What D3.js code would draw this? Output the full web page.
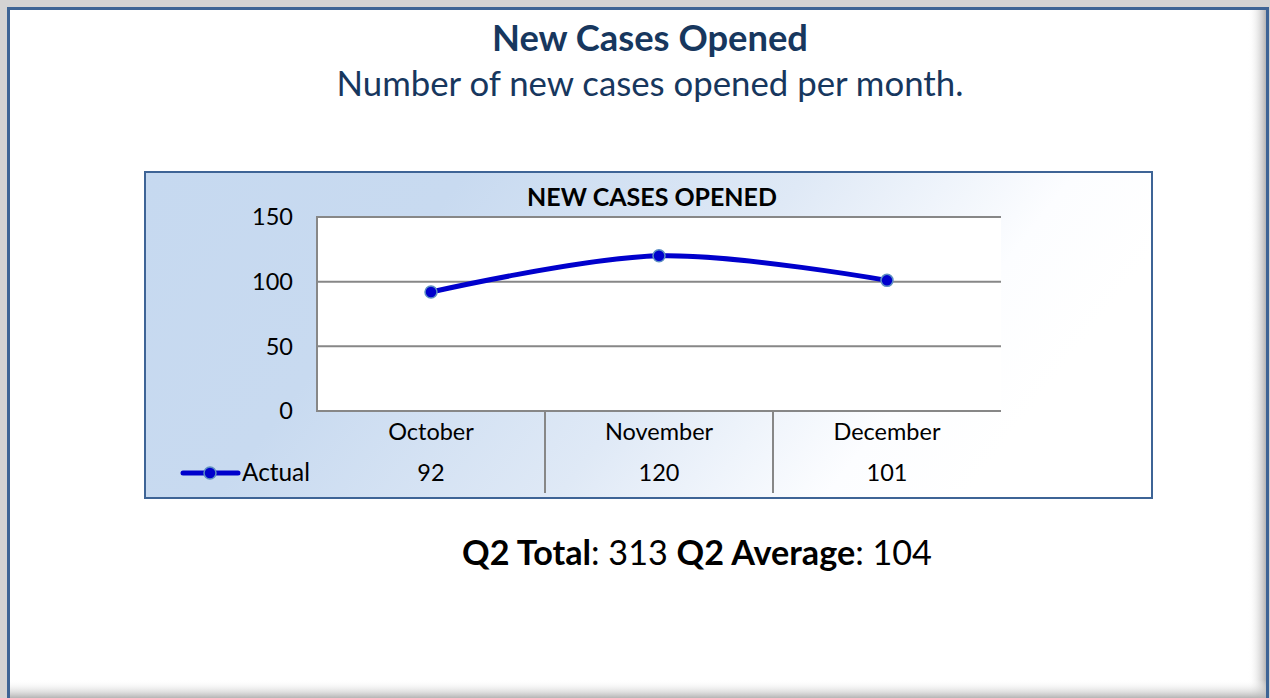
<!DOCTYPE html>
<html><head><meta charset="utf-8">
<script src="https://cdn.jsdelivr.net/npm/d3@7"></script>
<style>html,body{margin:0;padding:0;overflow:hidden;background:#fff}</style>
</head><body>
<svg id="c" width="1270" height="698"></svg>
<script>
const categories = ["October", "November", "December"];
const actual = [92, 120, 101];
const yTicks = [0, 50, 100, 150];
const seriesName = "Actual";
const pageTitle = "New Cases Opened";
const pageSubtitle = "Number of new cases opened per month.";
const chartTitle = "NEW CASES OPENED";
const summary = [["Q2 Total", ": 313 "], ["Q2 Average", ": 104"]];

const FONT = "Lato, 'Open Sans', sans-serif";
const LBL = 23.5;
const svg = d3.select("#c");
const defs = svg.append("defs");

function fit(sel, target) {
  const node = sel.node();
  const fs = parseFloat(sel.attr("font-size"));
  const w = node.getComputedTextLength();
  if (w > 0) sel.attr("font-size", fs * target / w);
  return sel;
}

// page frame
svg.append("rect").attr("width", 1270).attr("height", 698).attr("fill", "#d3d3d3");
svg.append("rect").attr("x", 7).attr("y", 7).attr("width", 1262).attr("height", 700).attr("fill", "#3d6495");
svg.append("rect").attr("x", 10).attr("y", 10).attr("width", 1256).attr("height", 700).attr("fill", "#ffffff");
const shR = defs.append("linearGradient").attr("id", "shR").attr("x1", 0).attr("x2", 1).attr("y1", 0).attr("y2", 0);
shR.append("stop").attr("offset", 0).attr("stop-color", "#fff").attr("stop-opacity", 0);
shR.append("stop").attr("offset", 1).attr("stop-color", "#b5b5b5").attr("stop-opacity", 1);
const shB = defs.append("linearGradient").attr("id", "shB").attr("x1", 0).attr("x2", 0).attr("y1", 0).attr("y2", 1);
shB.append("stop").attr("offset", 0).attr("stop-color", "#fff").attr("stop-opacity", 0);
shB.append("stop").attr("offset", 1).attr("stop-color", "#b5b5b5").attr("stop-opacity", 1);
svg.append("rect").attr("x", 1248).attr("y", 10).attr("width", 18).attr("height", 690).attr("fill", "url(#shR)");
svg.append("rect").attr("x", 10).attr("y", 680).attr("width", 1256).attr("height", 18).attr("fill", "url(#shB)");

// titles
fit(svg.append("text").attr("x", 650).attr("y", 51).attr("text-anchor", "middle")
  .attr("font-family", FONT).attr("font-weight", "bold").attr("font-size", 32)
  .attr("fill", "#17375e").text(pageTitle), 316);
fit(svg.append("text").attr("x", 650).attr("y", 96).attr("text-anchor", "middle")
  .attr("font-family", FONT).attr("font-size", 32)
  .attr("fill", "#17375e").text(pageSubtitle), 627);

// chart box
const gBox = defs.append("linearGradient").attr("id", "box").attr("x1", 0).attr("y1", 0).attr("x2", 1).attr("y2", 0.25);
gBox.append("stop").attr("offset", 0).attr("stop-color", "#c6d9f0");
gBox.append("stop").attr("offset", 0.3).attr("stop-color", "#c8daf0");
gBox.append("stop").attr("offset", 0.62).attr("stop-color", "#dfe9f6");
gBox.append("stop").attr("offset", 0.87).attr("stop-color", "#fcfdff");
gBox.append("stop").attr("offset", 1).attr("stop-color", "#ffffff");
svg.append("rect").attr("x", 145).attr("y", 172).attr("width", 1007).attr("height", 326)
  .attr("fill", "url(#box)").attr("stroke", "#3e6496").attr("stroke-width", 2);

fit(svg.append("text").attr("x", 652).attr("y", 206).attr("text-anchor", "middle")
  .attr("font-family", FONT).attr("font-weight", "bold").attr("font-size", 19)
  .attr("fill", "#000").text(chartTitle), 250);

// scales
const x = d3.scaleBand().domain(categories).range([317, 1001]).padding(0);
const y = d3.scaleLinear().domain([0, 150]).range([411, 217]);

svg.append("rect").attr("x", 317).attr("y", 217).attr("width", 684).attr("height", 194).attr("fill", "#fff");

// gridlines
svg.append("g").selectAll("line").data(yTicks).join("line")
  .attr("x1", 317).attr("x2", 1001).attr("y1", d => y(d)).attr("y2", d => y(d))
  .attr("stroke", "#878787").attr("stroke-width", 2);
svg.append("line").attr("x1", 317).attr("x2", 317).attr("y1", y(150) - 1).attr("y2", y(0) + 1)
  .attr("stroke", "#878787").attr("stroke-width", 2);

// y tick labels
svg.append("g").selectAll("text").data(yTicks).join("text")
  .attr("x", 293).attr("y", d => y(d)).attr("dy", "0.35em").attr("text-anchor", "end")
  .attr("font-family", FONT).attr("font-size", LBL).attr("fill", "#000").text(d => d);

// data table separators
svg.append("g").selectAll("line").data(categories.slice(1)).join("line")
  .attr("x1", d => x(d)).attr("x2", d => x(d)).attr("y1", y(0)).attr("y2", 493)
  .attr("stroke", "#878787").attr("stroke-width", 2);

// category labels
svg.append("g").selectAll("text").data(categories).join("text")
  .attr("x", d => x(d) + x.bandwidth() / 2).attr("y", 440).attr("text-anchor", "middle")
  .attr("font-family", FONT).attr("font-size", LBL).attr("fill", "#000").text(d => d);
// values row
svg.append("g").selectAll("text").data(actual).join("text")
  .attr("x", (d, i) => x(categories[i]) + x.bandwidth() / 2).attr("y", 481).attr("text-anchor", "middle")
  .attr("font-family", FONT).attr("font-size", LBL).attr("fill", "#000").text(d => d);

// legend key
svg.append("line").attr("x1", 183).attr("x2", 238).attr("y1", 473).attr("y2", 473)
  .attr("stroke", "#0000cc").attr("stroke-width", 5).attr("stroke-linecap", "round");
svg.append("circle").attr("cx", 210).attr("cy", 473).attr("r", 6)
  .attr("fill", "#0000cc").attr("stroke", "#5d8fc3").attr("stroke-width", 1.5);
fit(svg.append("text").attr("x", 242).attr("y", 481)
  .attr("font-family", FONT).attr("font-size", LBL).attr("fill", "#000").text(seriesName), 68);

// series line
const pts = actual.map((v, i) => [x(categories[i]) + x.bandwidth() / 2, y(v)]);
svg.append("path").attr("d", d3.line().curve(d3.curveCardinal.tension(0))(pts))
  .attr("fill", "none").attr("stroke", "#0000cc").attr("stroke-width", 5).attr("stroke-linecap", "round");
svg.append("g").selectAll("circle").data(pts).join("circle")
  .attr("cx", d => d[0]).attr("cy", d => d[1]).attr("r", 6)
  .attr("fill", "#0000cc").attr("stroke", "#5d8fc3").attr("stroke-width", 1.5);

// summary
const st = svg.append("text").attr("x", 697).attr("y", 565).attr("text-anchor", "middle")
  .attr("font-family", FONT).attr("font-size", 29).attr("fill", "#000").attr("xml:space", "preserve");
summary.forEach(([b, n]) => {
  st.append("tspan").attr("font-weight", "bold").text(b);
  st.append("tspan").text(n);
});
fit(st, 470);
</script>
</body></html>
